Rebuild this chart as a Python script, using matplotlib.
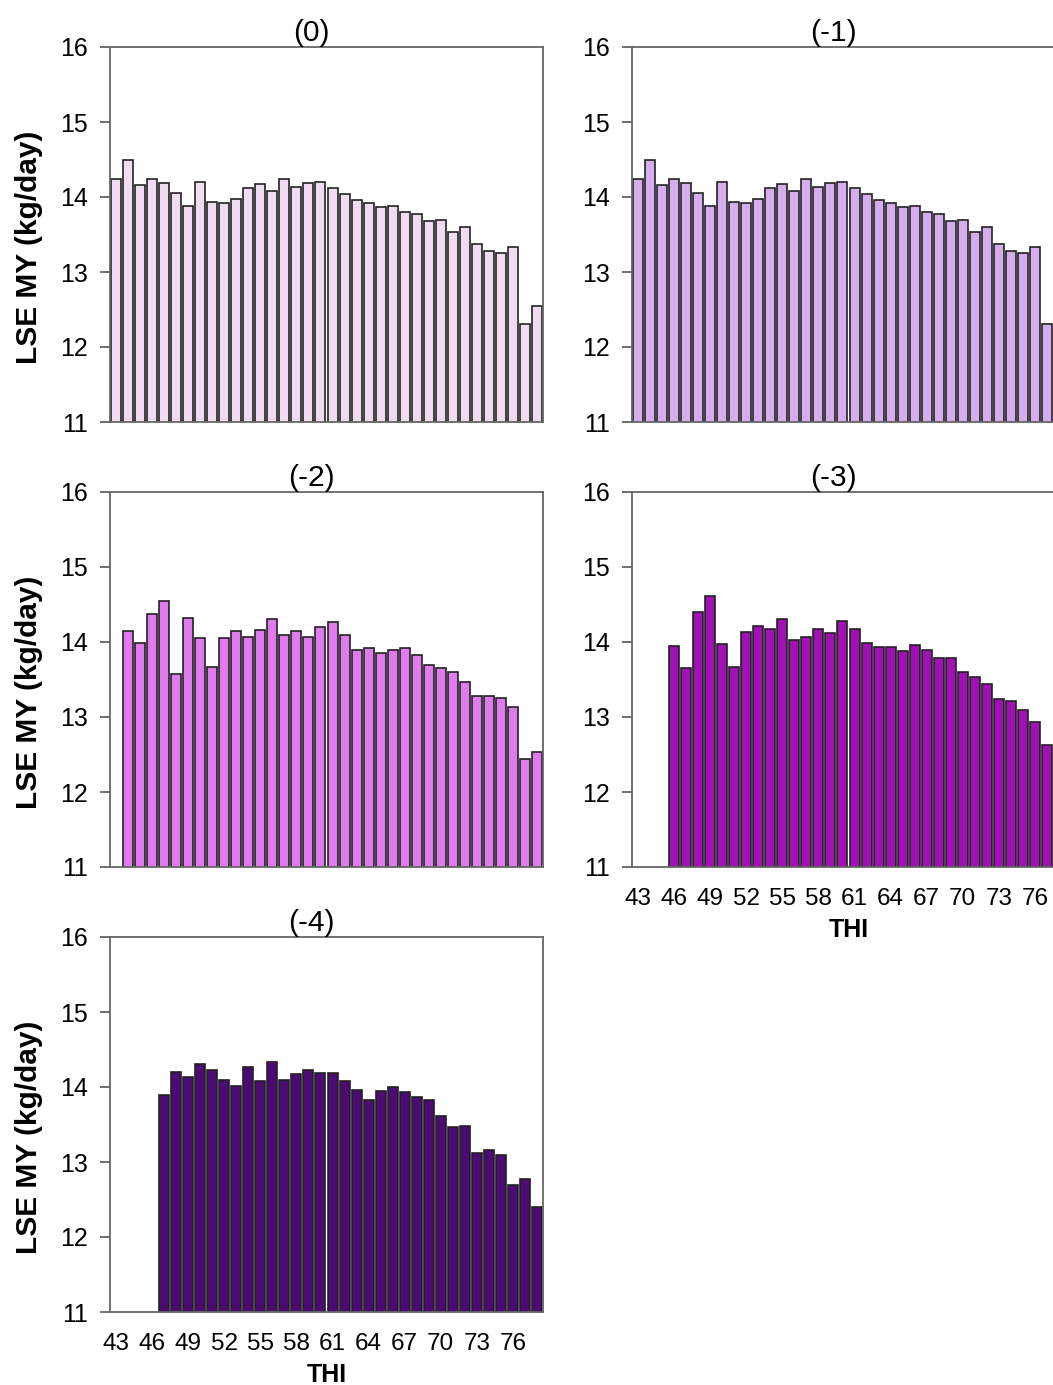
import numpy as np
import matplotlib.pyplot as plt

plt.rcParams['font.family'] = ['Liberation Sans', 'DejaVu Sans']

# THI classes 43..78
thi = np.arange(43, 79)
nan = np.nan

# least-squares estimates of milk yield (kg/day) by lag day
lse_0 = [14.24, 14.50, 14.16, 14.24, 14.19, 14.05, 13.88, 14.20, 13.94, 13.92,
         13.98, 14.12, 14.18, 14.08, 14.24, 14.13, 14.19, 14.20, 14.12, 14.04,
         13.96, 13.92, 13.87, 13.88, 13.80, 13.77, 13.68, 13.69, 13.54, 13.60,
         13.37, 13.28, 13.25, 13.33, 12.31, 12.55]
lse_1 = [14.24, 14.50, 14.16, 14.24, 14.19, 14.05, 13.88, 14.20, 13.94, 13.92,
         13.98, 14.12, 14.18, 14.08, 14.24, 14.13, 14.19, 14.20, 14.12, 14.04,
         13.96, 13.92, 13.87, 13.88, 13.80, 13.77, 13.68, 13.69, 13.54, 13.60,
         13.37, 13.28, 13.25, 13.33, 12.31, nan]
lse_2 = [nan, 14.15, 13.99, 14.38, 14.55, 13.58, 14.32, 14.06, 13.67, 14.06,
         14.15, 14.07, 14.16, 14.31, 14.09, 14.15, 14.07, 14.20, 14.27, 14.10,
         13.89, 13.92, 13.86, 13.89, 13.92, 13.83, 13.69, 13.66, 13.60, 13.47,
         13.28, 13.28, 13.25, 13.14, 12.44, 12.53]
lse_3 = [nan, nan, nan, 13.95, 13.65, 14.40, 14.62, 13.97, 13.67, 14.14,
         14.22, 14.17, 14.31, 14.03, 14.07, 14.18, 14.12, 14.28, 14.18, 13.99,
         13.94, 13.93, 13.88, 13.96, 13.89, 13.79, 13.79, 13.60, 13.53, 13.44,
         13.24, 13.21, 13.09, 12.94, 12.63, nan]
lse_4 = [nan, nan, nan, nan, 13.89, 14.20, 14.13, 14.30, 14.22, 14.09,
         14.01, 14.26, 14.08, 14.33, 14.09, 14.17, 14.23, 14.18, 14.19, 14.08,
         13.96, 13.82, 13.94, 14.00, 13.93, 13.86, 13.82, 13.62, 13.47, 13.48,
         13.12, 13.16, 13.09, 12.69, 12.78, 12.40]

titles = ['(0)', '(-1)', '(-2)', '(-3)', '(-4)']
series = [lse_0, lse_1, lse_2, lse_3, lse_4]
colors = ['#F0DCF1', '#D5ACEC', '#E07AEE', '#A010B4', '#4B0A74']

W, H = 1053, 1385
fig = plt.figure(figsize=(W / 100, H / 100), dpi=100)

# axes boxes in pixels: left, top (same size for every panel)
boxes = [(110, 47), (632, 47), (110, 492), (632, 492), (110, 937)]
aw, ah = 433, 375
show_x = [False, False, False, True, True]
show_ylab = [True, False, True, False, True]

idx = np.arange(len(thi))
for k, (left, top) in enumerate(boxes):
    ax = fig.add_axes([left / W, 1 - (top + ah) / H, aw / W, ah / H])
    ax.bar(idx, series[k], width=0.83, bottom=0, color=colors[k],
           edgecolor='#222222', linewidth=1.2)
    ax.set_xlim(-0.5, len(thi) - 0.5)
    ax.set_ylim(11, 16)
    ax.set_yticks([11, 12, 13, 14, 15, 16])
    ax.tick_params(axis='y', direction='out', length=7, width=1.2,
                   color='#555555', labelsize=18, pad=9)
    ax.set_xticks(idx[::3])
    if show_x[k]:
        ax.set_xticklabels([str(t) for t in thi[::3]])
        ax.set_xlabel('THI', fontsize=18, fontweight='bold', labelpad=6)
    else:
        ax.set_xticklabels([])
    ax.tick_params(axis='x', length=0, labelsize=17.5, pad=15)
    for sp in ax.spines.values():
        sp.set_color('#666666')
        sp.set_linewidth(1.3)
    ax.set_title(titles[k], fontsize=21.5, x=0.466, pad=4)
    if show_ylab[k]:
        ax.set_ylabel('LSE MY (kg/day)', fontsize=21.5, fontweight='bold')
        ax.yaxis.set_label_coords(-0.155, 0.467)

fig.savefig('out.png', dpi=100)
